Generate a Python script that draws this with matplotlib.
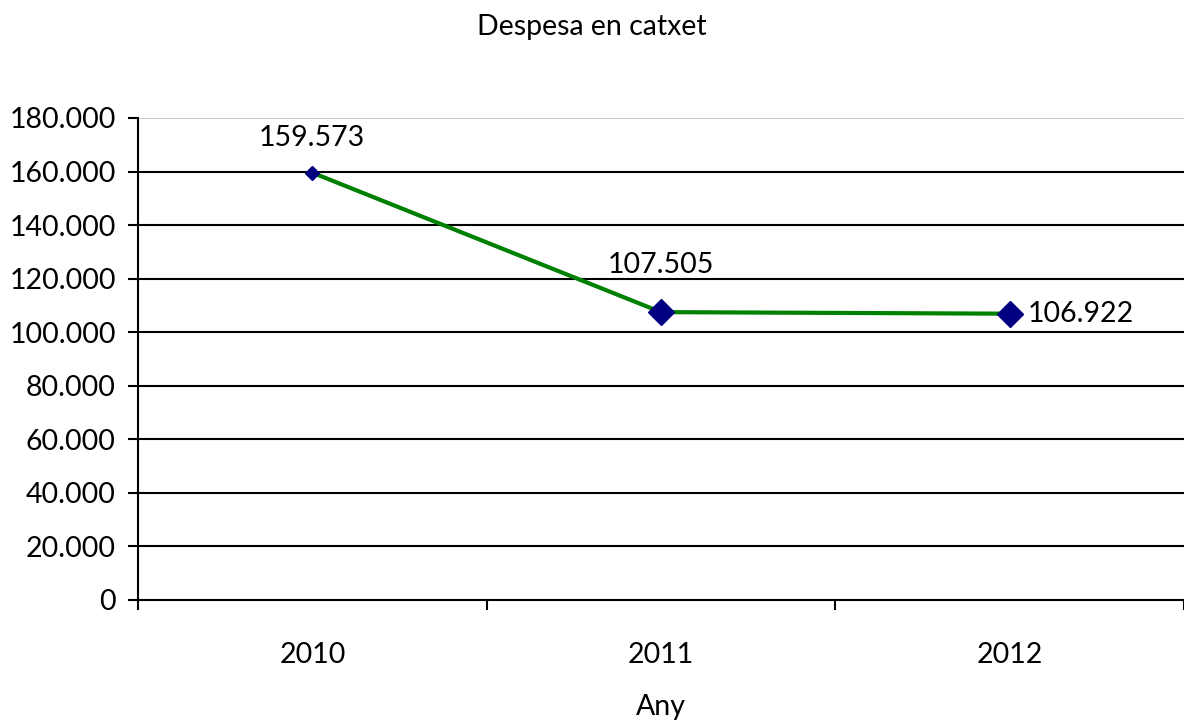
import matplotlib.pyplot as plt
from matplotlib.ticker import FuncFormatter, FixedLocator

anys = ["2010", "2011", "2012"]
despesa = [159573, 107505, 106922]
etiquetes = ["159.573", "107.505", "106.922"]
mides = [7, 13, 13]

plt.rcParams['font.family'] = ['Lato', 'DejaVu Sans']
mida_text = 20.5

fig = plt.figure(figsize=(11.84, 7.22), dpi=100)
ax = fig.add_axes([138/1184, 122/722, 1 - 138/1184, (600-118)/722])

x = list(range(len(anys)))
ax.plot(x, despesa, color='#008000', lw=3, zorder=3)
for i in x:
    ax.plot(x[i], despesa[i], marker='D', ms=mides[i], color='#000080', zorder=4, ls='none')

# etiquetes de dades
ax.annotate(etiquetes[0], (x[0], despesa[0]), xytext=(0, 25), textcoords='offset points',
            ha='center', va='center', fontsize=mida_text)
ax.annotate(etiquetes[1], (x[1], despesa[1]), xytext=(0, 34), textcoords='offset points',
            ha='center', va='center', fontsize=mida_text)
ax.annotate(etiquetes[2], (x[2], despesa[2]), xytext=(13, 0), textcoords='offset points',
            ha='left', va='center', fontsize=mida_text)

ax.set_xlim(-0.5, 2.5)
ax.set_ylim(0, 180000)
ax.set_yticks(range(0, 180001, 20000))
ax.yaxis.set_major_formatter(FuncFormatter(lambda v, p: f"{int(v):,}".replace(",", ".")))
ax.set_xticks(x)
ax.set_xticklabels(anys)
ax.xaxis.set_minor_locator(FixedLocator([-0.5, 0.5, 1.5, 2.5]))
ax.tick_params(axis='x', which='major', length=0, pad=30, labelsize=mida_text)
ax.tick_params(axis='x', which='minor', length=7, width=1.5, direction='out')
ax.tick_params(axis='y', length=7, width=1.5, direction='out', labelsize=mida_text, pad=9)

for v in range(20000, 180001, 20000):
    ax.axhline(v, color='black' if v < 180000 else '#c8c8c8', lw=1.5, zorder=1)

for s in ['top', 'right']:
    ax.spines[s].set_visible(False)
ax.spines['left'].set_linewidth(1.5)
ax.spines['bottom'].set_linewidth(1.5)

fig.text(592/1184, 1 - 27/722, "Despesa en catxet", ha='center', va='center', fontsize=mida_text)
fig.text(661/1184, 1 - 707/722, "Any", ha='center', va='center', fontsize=mida_text)

fig.savefig("out.png", dpi=100)
